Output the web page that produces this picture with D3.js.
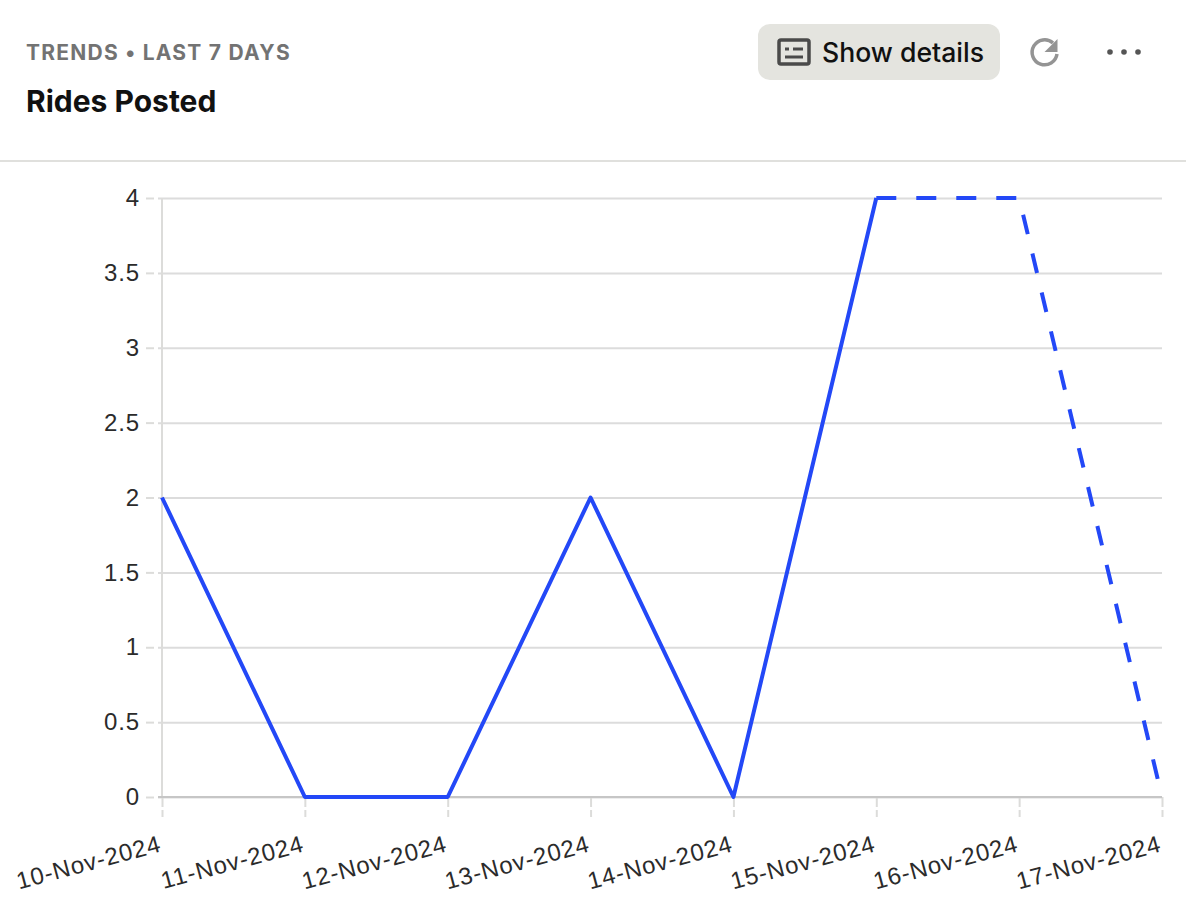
<!DOCTYPE html>
<html lang="en">
<head>
    <meta charset="UTF-8">
    <title>Rides Posted</title>
    <script src="https://d3js.org/d3.v7.min.js"></script>
    <style>
        html, body { margin: 0; padding: 0; background: #fff; }
        svg { display: block; font-family: Inter, sans-serif; }
        .grid line { stroke: #dcdcdc; stroke-width: 2; }
        .grid path { display: none; }
        .tick-axis path { display: none; }
        .tick-axis line { stroke: #dcdcda; stroke-width: 2; }
        .tick-axis text { font-size: 24px; letter-spacing: 0.9px; fill: #2b2b2b; }
    </style>
</head>
<body>
    <svg width="1186" height="906"></svg>
    <script>
        // Values
        const dates = ["10-Nov-2024", "11-Nov-2024", "12-Nov-2024", "13-Nov-2024", "14-Nov-2024", "15-Nov-2024", "16-Nov-2024", "17-Nov-2024"];
        const ridesComplete = [2, 0, 0, 2, 0, 4];
        const ridesPartial = [null, null, null, null, null, 4, 4, 0];
        const yTicks = [0, 0.5, 1, 1.5, 2, 2.5, 3, 3.5, 4];

        const margin = { top: 198, right: 24, bottom: 109, left: 162 };
        const width = 1186 - margin.left - margin.right;
        const height = 906 - margin.top - margin.bottom;

        const svg = d3.select("svg");

        // Header
        svg.append("text").attr("x", 26).attr("y", 60)
            .attr("font-size", 21).attr("font-weight", 700).attr("letter-spacing", 1.25)
            .attr("fill", "#737373").text("TRENDS ● LAST 7 DAYS".replace("●", "•"));
        svg.append("text").attr("x", 26).attr("y", 112)
            .attr("font-size", 30).attr("font-weight", 700)
            .attr("fill", "#111").text("Rides Posted");

        // Show details button
        svg.append("rect").attr("x", 758).attr("y", 24).attr("width", 242).attr("height", 56)
            .attr("rx", 12).attr("fill", "#e4e4df");
        const icon = svg.append("g").attr("fill", "none").attr("stroke", "#4a4a4a").attr("stroke-width", 3.5);
        icon.append("rect").attr("x", 779).attr("y", 40).attr("width", 30).attr("height", 24).attr("rx", 2);
        icon.append("path").attr("d", "M785 49h4M793 49h10M785 57h18").attr("stroke-width", 3);
        svg.append("text").attr("x", 822).attr("y", 62)
            .attr("font-size", 26.6).attr("font-weight", 500).attr("fill", "#111").text("Show details");

        // Refresh icon
        svg.append("path").attr("d", "M1053 43a12.5 12.5 0 1 0 4 11")
            .attr("fill", "none").attr("stroke", "#949494").attr("stroke-width", 3.5);
        svg.append("path").attr("d", "M1057.5 39v13h-13z").attr("fill", "#949494");

        // More menu
        svg.append("g").attr("fill", "#555").selectAll("circle")
            .data([1110, 1124, 1138]).join("circle")
            .attr("cx", d => d).attr("cy", 52).attr("r", 2.8);

        // Header rule
        svg.append("line").attr("x1", 0).attr("x2", 1186).attr("y1", 161).attr("y2", 161)
            .attr("stroke", "#e0e0dd").attr("stroke-width", 2);

        const g = svg.append("g").attr("transform", `translate(${margin.left},${margin.top})`);

        const x = d3.scalePoint().domain(dates).range([0, width]);
        const y = d3.scaleLinear().domain([0, 4]).range([height, 0]);

        // Gridlines
        g.append("g").attr("class", "grid")
            .call(d3.axisLeft(y).tickValues(yTicks).tickSize(-width - 4).tickFormat(""))
            .selectAll("line").attr("transform", "translate(-4,0)")
            .attr("x1", 0);

        // Y axis ticks and labels
        const yAxisG = g.append("g").attr("class", "tick-axis")
            .call(d3.axisLeft(y).tickValues(yTicks).tickSize(16).tickPadding(6).tickFormat(d3.format("~g")));
        yAxisG.selectAll("line").attr("x1", -16).attr("x2", -8);

        // Left axis line
        g.append("line").attr("x1", 0).attr("x2", 0).attr("y1", y(4)).attr("y2", y(0))
            .attr("stroke", "#dcdcda").attr("stroke-width", 2);

        // X axis
        const xAxisG = g.append("g").attr("class", "tick-axis")
            .attr("transform", `translate(0,${height})`)
            .call(d3.axisBottom(x).tickSize(20).tickPadding(0));
        xAxisG.selectAll("line").attr("stroke-dasharray", "10,3,7");
        xAxisG.selectAll("text")
            .attr("text-anchor", "end")
            .attr("dy", null).attr("y", null)
            .attr("transform", "translate(0,54) rotate(-15)");

        // Baseline
        g.append("line").attr("x1", -4).attr("x2", width).attr("y1", y(0)).attr("y2", y(0))
            .attr("stroke", "#c6c6c6").attr("stroke-width", 2);

        // Series
        const line = d3.line().defined(d => d !== null).x((d, i) => x(dates[i])).y(d => y(d));
        g.append("path").datum(ridesComplete).attr("d", line)
            .attr("fill", "none").attr("stroke", "#2348f7").attr("stroke-width", 4).attr("stroke-linejoin", "round");
        g.append("path").datum(ridesPartial).attr("d", line)
            .attr("fill", "none").attr("stroke", "#2348f7").attr("stroke-width", 4).attr("stroke-dasharray", "20,20");
    </script>
</body>
</html>
